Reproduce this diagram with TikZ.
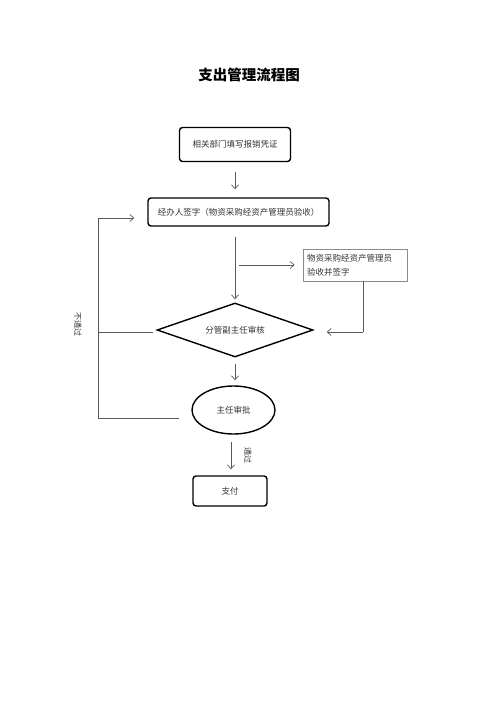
\documentclass[tikz,border=0pt]{standalone}
\usepackage{fontspec}
\setmainfont{Noto Sans CJK SC}
\usetikzlibrary{shapes.geometric,arrows.meta,calc}
\begin{document}
\begin{tikzpicture}[x=1pt,y=-1pt,
  txt/.style={font=\fontsize{8.5}{10}\selectfont, text=black!80},
  rbox/.style={draw=black, line width=1.4pt, rounded corners=3pt, txt, inner sep=0pt},
  pbox/.style={draw=black!45, line width=0.6pt, txt, inner sep=0pt, align=left},
  conn/.style={draw=black!65, line width=0.7pt},
  arr/.style={conn, -{Straight Barb[length=4pt,width=7pt]}},
  vlabel/.style={txt, rotate=-90, font=\fontsize{8}{9}\selectfont}
]
\useasboundingbox (0,0) rectangle (500,708);
\node[font=\fontsize{14.5}{16}\selectfont\bfseries] (title) at (249,75) {支出管理流程图};

\node[rbox, minimum width=111pt, minimum height=34pt] (b1) at (235,144.5) {相关部门填写报销凭证};
\node[rbox, minimum width=181pt, minimum height=28pt] (b2) at (238.5,212) {经办人签字（物资采购经资产管理员验收）};
\node[pbox, minimum width=104pt, minimum height=32pt, text width=96pt, font=\fontsize{8.5}{14}\selectfont] (b3) at (355,265) {物资采购经资产管理员\\验收并签字};
\node[diamond, draw=black, line width=1.4pt, minimum width=156pt, minimum height=54pt, inner sep=0pt, aspect=2.9, txt] (d) at (235,330) {分管副主任审核};
\node[ellipse, draw=black, line width=1.4pt, minimum width=83pt, minimum height=48pt, inner sep=0pt, txt] (e) at (233.5,410) {主任审批};
\node[rbox, minimum width=74pt, minimum height=30pt] (pay) at (230,491) {支付};

\coordinate (br) at (239,265);
\coordinate (L1) at (98,218);
\coordinate (L2) at (98,418);
\coordinate (R1) at (363,332);
\coordinate (A1) at (235,237);
\coordinate (A2) at (231,442);

% main flow
\draw[arr] ([yshift=-10pt]b1.south) -- ([yshift=8pt]b1.south |- b2.north);
\draw[arr] (A1) -- ([yshift=3pt]d.north);
\draw[arr] (br) -- ([xshift=-8pt]b3.west |- br);
\draw[conn] (b3.south -| R1) -- (R1);
\draw[arr] (R1) -- ([xshift=13pt]d.east |- R1);
\draw[arr] ([yshift=-6pt]d.south) -- ([yshift=5pt]d.south |- e.north);
\draw[arr] (A2) -- ([yshift=6pt]A2 |- pay.north);

% not-passed loop
\draw[conn] ([xshift=-3pt]d.west |- 0,332) -- (98,332);
\draw[conn] (L2) -- (L1);
\draw[arr] (L1) -- ([xshift=-13pt]b2.west |- L1);
\draw[conn] ([xshift=-12pt]e.west |- L2) -- (L2);

\node[vlabel] (np) at (78,324) {不通过};
\node[vlabel] (ps) at (248,455) {通过};
\end{tikzpicture}
\end{document}
